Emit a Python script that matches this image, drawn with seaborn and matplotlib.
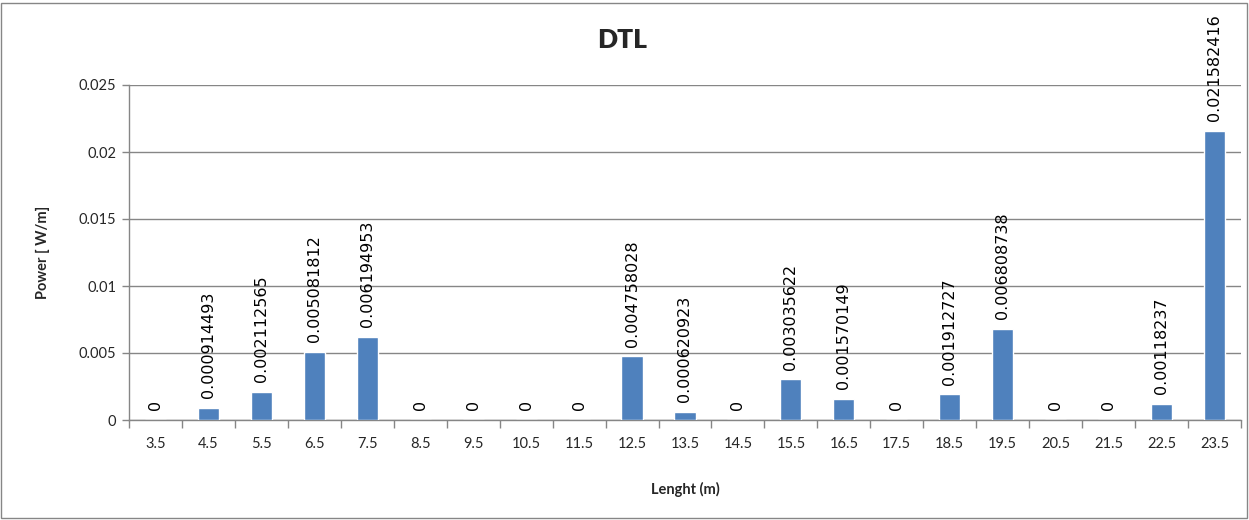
import numpy as np
import pandas as pd
import matplotlib
matplotlib.use("Agg")
import matplotlib.pyplot as plt
import seaborn as sns
from matplotlib.patches import Rectangle
from matplotlib.ticker import FixedLocator, FuncFormatter

# ----------------------------------------------------------
# DATA
# ----------------------------------------------------------
lengths = ["3.5", "4.5", "5.5", "6.5", "7.5", "8.5", "9.5", "10.5", "11.5",
           "12.5", "13.5", "14.5", "15.5", "16.5", "17.5", "18.5", "19.5",
           "20.5", "21.5", "22.5", "23.5"]
power = [0, 0.000914493, 0.002112565, 0.005081812, 0.006194953, 0, 0, 0, 0,
         0.004758028, 0.000620923, 0, 0.003035622, 0.001570149, 0,
         0.001912727, 0.006808738, 0, 0, 0.00118237, 0.021582416]
y_ticks = [0, 0.005, 0.01, 0.015, 0.02, 0.025]

BAR_COLOR = "#4F81BD"
GRID_COLOR = "#868686"

sns.set_style("white")
plt.rcParams["font.family"] = ["Lato", "DejaVu Sans"]

df = pd.DataFrame({"length": lengths, "power": power})

fig = plt.figure(figsize=(12.49, 5.20), dpi=100)
ax = fig.add_axes([129 / 1249, 1 - 420 / 520, (1241 - 129) / 1249, (420 - 85) / 520])

sns.barplot(data=df, x="length", y="power", color=BAR_COLOR, width=0.4,
            saturation=1, ax=ax, zorder=3)

# data labels above each bar
labels = ["{:.9g}".format(v) for v in power]
ax.bar_label(ax.containers[0], labels=labels, rotation=90, padding=7,
             fontsize=11.5, family="DejaVu Sans", color="black")

# y axis
ax.set_ylim(0, 0.025)
ax.yaxis.set_major_locator(FixedLocator(y_ticks))
ax.yaxis.set_major_formatter(FuncFormatter(lambda v, p: "{:g}".format(v)))
ax.yaxis.grid(True, color=GRID_COLOR, linewidth=1, zorder=0)
ax.set_axisbelow(True)

# x axis: tick marks between categories
n = len(lengths)
ax.set_xlim(-0.5, n - 0.5)
ax.xaxis.set_minor_locator(FixedLocator(np.arange(-0.5, n, 1.0)))
ax.tick_params(axis="x", which="major", length=0, pad=12, labelsize=10.5)
ax.tick_params(axis="x", which="minor", length=6, width=1, color=GRID_COLOR,
               direction="out", bottom=True)
ax.tick_params(axis="y", which="major", length=5, width=1, color=GRID_COLOR,
               direction="out", left=True, labelsize=10.5, pad=4)

for side in ["top", "right"]:
    ax.spines[side].set_visible(False)
for side in ["left", "bottom"]:
    ax.spines[side].set_color(GRID_COLOR)
    ax.spines[side].set_linewidth(1)

ax.set_xlabel("")
ax.set_ylabel("")
fig.text(685 / 1249, 1 - 489 / 520, "Lenght (m)", ha="center", va="center",
         fontsize=10.5, fontweight="bold")
fig.text(43 / 1249, 1 - 252 / 520, "Power [ W/m]", ha="center", va="center",
         rotation=90, fontsize=10.5, fontweight="bold")
fig.text(622 / 1249, 1 - 40 / 520, "DTL", ha="center", va="center",
         fontsize=19, fontweight="heavy")

# outer chart border
fig.add_artist(Rectangle((0.001, 0.003), 0.997, 0.992, transform=fig.transFigure,
                         fill=False, edgecolor=GRID_COLOR, linewidth=1))

fig.savefig("out.png", dpi=100)
